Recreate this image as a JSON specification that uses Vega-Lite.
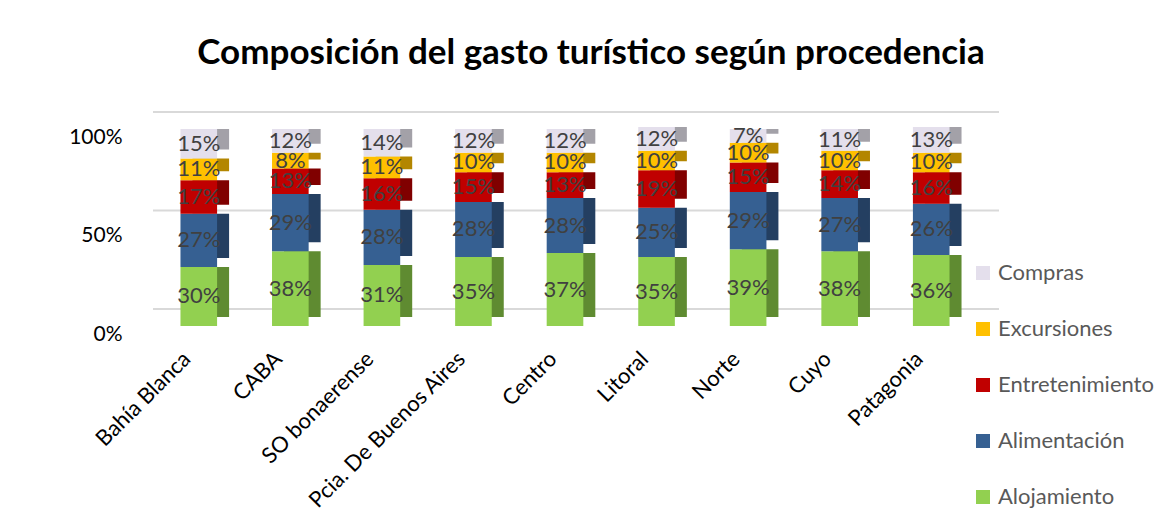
{
  "$schema": "https://vega.github.io/schema/vega-lite/v6.json",
  "autosize": {"type": "none"},
  "padding": {"left": 153, "top": 129, "right": 186, "bottom": 195},
  "width": 824,
  "height": 197,
  "background": "white",
  "config": {"view": {"stroke": null}, "font": "Lato"},
  "title": {
    "text": "Composición del gasto turístico según procedencia",
    "font": "Lato",
    "fontSize": 35,
    "fontWeight": "bold",
    "color": "#000000",
    "anchor": "middle",
    "dx": 26,
    "baseline": "alphabetic",
    "offset": 12
  },
  "datasets": {
    "gasto": [
      {"region": "Bahía Blanca", "cat": "Alojamiento", "v": 0.30},
      {"region": "Bahía Blanca", "cat": "Alimentación", "v": 0.27},
      {"region": "Bahía Blanca", "cat": "Entretenimiento", "v": 0.17},
      {"region": "Bahía Blanca", "cat": "Excursiones", "v": 0.11},
      {"region": "Bahía Blanca", "cat": "Compras", "v": 0.15},
      {"region": "CABA", "cat": "Alojamiento", "v": 0.38},
      {"region": "CABA", "cat": "Alimentación", "v": 0.29},
      {"region": "CABA", "cat": "Entretenimiento", "v": 0.13},
      {"region": "CABA", "cat": "Excursiones", "v": 0.08},
      {"region": "CABA", "cat": "Compras", "v": 0.12},
      {"region": "SO bonaerense", "cat": "Alojamiento", "v": 0.31},
      {"region": "SO bonaerense", "cat": "Alimentación", "v": 0.28},
      {"region": "SO bonaerense", "cat": "Entretenimiento", "v": 0.16},
      {"region": "SO bonaerense", "cat": "Excursiones", "v": 0.11},
      {"region": "SO bonaerense", "cat": "Compras", "v": 0.14},
      {"region": "Pcia. De Buenos Aires", "cat": "Alojamiento", "v": 0.35},
      {"region": "Pcia. De Buenos Aires", "cat": "Alimentación", "v": 0.28},
      {"region": "Pcia. De Buenos Aires", "cat": "Entretenimiento", "v": 0.15},
      {"region": "Pcia. De Buenos Aires", "cat": "Excursiones", "v": 0.10},
      {"region": "Pcia. De Buenos Aires", "cat": "Compras", "v": 0.12},
      {"region": "Centro", "cat": "Alojamiento", "v": 0.37},
      {"region": "Centro", "cat": "Alimentación", "v": 0.28},
      {"region": "Centro", "cat": "Entretenimiento", "v": 0.13},
      {"region": "Centro", "cat": "Excursiones", "v": 0.10},
      {"region": "Centro", "cat": "Compras", "v": 0.12},
      {"region": "Litoral", "cat": "Alojamiento", "v": 0.35},
      {"region": "Litoral", "cat": "Alimentación", "v": 0.25},
      {"region": "Litoral", "cat": "Entretenimiento", "v": 0.19},
      {"region": "Litoral", "cat": "Excursiones", "v": 0.10},
      {"region": "Litoral", "cat": "Compras", "v": 0.12},
      {"region": "Norte", "cat": "Alojamiento", "v": 0.39},
      {"region": "Norte", "cat": "Alimentación", "v": 0.29},
      {"region": "Norte", "cat": "Entretenimiento", "v": 0.15},
      {"region": "Norte", "cat": "Excursiones", "v": 0.10},
      {"region": "Norte", "cat": "Compras", "v": 0.07},
      {"region": "Cuyo", "cat": "Alojamiento", "v": 0.38},
      {"region": "Cuyo", "cat": "Alimentación", "v": 0.27},
      {"region": "Cuyo", "cat": "Entretenimiento", "v": 0.14},
      {"region": "Cuyo", "cat": "Excursiones", "v": 0.10},
      {"region": "Cuyo", "cat": "Compras", "v": 0.11},
      {"region": "Patagonia", "cat": "Alojamiento", "v": 0.36},
      {"region": "Patagonia", "cat": "Alimentación", "v": 0.26},
      {"region": "Patagonia", "cat": "Entretenimiento", "v": 0.16},
      {"region": "Patagonia", "cat": "Excursiones", "v": 0.10},
      {"region": "Patagonia", "cat": "Compras", "v": 0.13}
    ],
    "grid": [{"g": 0}, {"g": 0.5}, {"g": 1}]
  },
  "layer": [
    {
      "data": {"name": "grid"},
      "mark": {"type": "rule", "color": "#d9d9d9", "strokeWidth": 2, "yOffset": -17, "xOffset": 22},
      "encoding": {
        "y": {
          "field": "g",
          "type": "quantitative",
          "scale": {"domain": [0, 1]},
          "axis": {
            "title": null,
            "values": [0, 0.5, 1],
            "format": ".0%",
            "labelFontSize": 21,
            "labelColor": "#000000",
            "labelFont": "Lato",
            "ticks": false,
            "domain": false,
            "grid": false,
            "labelPadding": 31,
            "labelOffset": 8
          }
        }
      }
    },
    {
      "data": {"name": "gasto"},
      "transform": [
        {"calculate": "indexof(['Alojamiento','Alimentación','Entretenimiento','Excursiones','Compras'], datum.cat)", "as": "k"},
        {"stack": "v", "groupby": ["region"], "sort": [{"field": "k", "order": "ascending"}], "as": ["v0", "v1"]},
        {"calculate": "(datum.v0 + datum.v1) / 2", "as": "mid"}
      ],
      "encoding": {
        "x": {
          "field": "region",
          "type": "nominal",
          "sort": null,
          "scale": {"paddingInner": 0.6, "paddingOuter": 0.3},
          "axis": {
            "title": null,
            "labelAngle": -45,
            "labelFontSize": 22,
            "labelColor": "#000000",
            "labelFont": "Lato",
            "labelLimit": 400,
            "ticks": false,
            "domain": false,
            "labelPadding": 22,
            "labelOffset": -19
          }
        }
      },
      "resolve": {"scale": {"color": "independent"}},
      "layer": [
        {
          "mark": {"type": "bar", "xOffset": 12, "yOffset": -9},
          "encoding": {
            "y": {"field": "v0", "type": "quantitative", "scale": {"domain": [0, 1]}},
            "y2": {"field": "v1"},
            "color": {
              "field": "cat",
              "type": "nominal",
              "scale": {
                "domain": ["Compras", "Excursiones", "Entretenimiento", "Alimentación", "Alojamiento"],
                "range": ["#a3a1a8", "#b38600", "#800000", "#243f61", "#5f8b31"]
              },
              "legend": null
            }
          }
        },
        {
          "mark": {"type": "bar"},
          "encoding": {
            "y": {"field": "v0", "type": "quantitative", "scale": {"domain": [0, 1]}},
            "y2": {"field": "v1"},
            "color": {
              "field": "cat",
              "type": "nominal",
              "scale": {
                "domain": ["Compras", "Excursiones", "Entretenimiento", "Alimentación", "Alojamiento"],
                "range": ["#e4dfec", "#ffc000", "#c00000", "#366092", "#92d050"]
              },
              "legend": {
                "title": null,
                "orient": "none",
                "legendX": 819,
                "legendY": 133,
                "symbolType": "square",
                "symbolSize": 196,
                "symbolStrokeWidth": 0,
                "labelFontSize": 22,
                "labelFont": "Lato",
                "labelColor": "#595959",
                "labelOffset": 4,
                "rowPadding": 34
              }
            }
          }
        },
        {
          "mark": {"type": "text", "fontSize": 22, "font": "Lato", "color": "#404040", "baseline": "middle"},
          "encoding": {
            "y": {"field": "mid", "type": "quantitative", "scale": {"domain": [0, 1]}},
            "text": {"field": "v", "type": "quantitative", "format": ".0%"}
          }
        }
      ]
    }
  ]
}
